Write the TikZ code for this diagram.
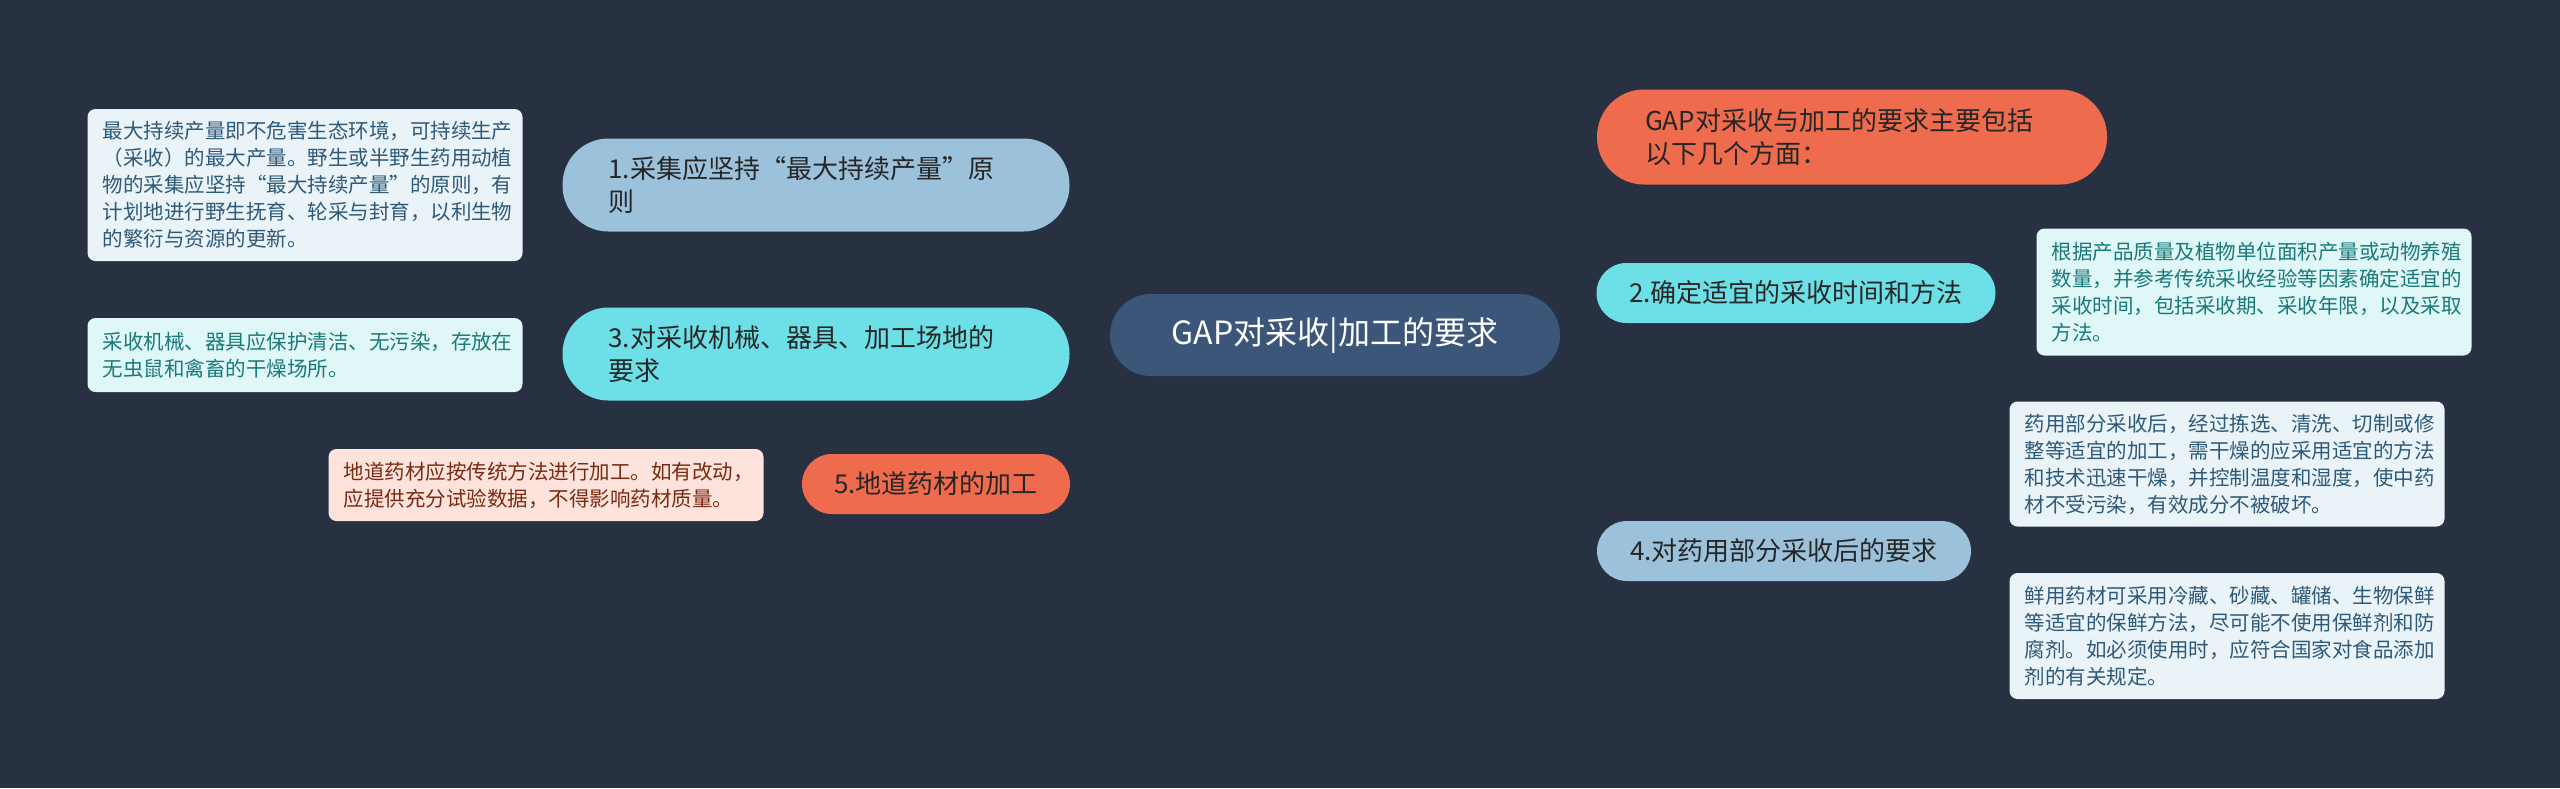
\documentclass[tikz,border=0pt]{standalone}
\usepackage{fontspec}
\setmainfont{Noto Sans CJK SC}
\pgfdeclarelayer{bg}
\pgfsetlayers{bg,main}
\definecolor{bgc}{HTML}{283142}
\definecolor{cen}{HTML}{3B5679}
\definecolor{org}{HTML}{EE6B4D}
\definecolor{cya}{HTML}{6DDFE6}
\definecolor{lbl}{HTML}{9CC2DB}
\definecolor{dcy}{HTML}{E0F7F8}
\definecolor{dbl}{HTML}{EAF3F8}
\definecolor{dor}{HTML}{FDE3DC}
\definecolor{tcy}{HTML}{1A7A7A}
\definecolor{tbl}{HTML}{2E5A7A}
\definecolor{tor}{HTML}{7A2A10}
\begin{document}
\begin{tikzpicture}[x=1pt,y=-1pt,
  topic/.style={inner sep=0pt,text=black!85,font=\fontsize{26}{33}\selectfont},
  desc/.style={rounded corners=8pt,inner xsep=15pt,inner ysep=0pt,text width=405pt,align=left,font=\fontsize{20.5}{27}\selectfont},
  link/.style={line width=2.5pt}]
\fill[bgc] (0,0) rectangle (2560,788);
\node[fill=cen,rounded corners=41pt,minimum width=450pt,minimum height=82pt,text=white,font=\fontsize{32}{38}\selectfont] (c) at (1335,335) {GAP对采收|加工的要求};
\node[topic,fill=org,rounded corners=47pt,minimum width=510pt,minimum height=95pt] (g) at (1852,137) {\parbox{414pt}{GAP对采收与加工的要求主要包括\\以下几个方面：}};
\node[topic,fill=cya,rounded corners=30pt,minimum width=399pt,minimum height=60pt] (n2) at (1796,293) {2.确定适宜的采收时间和方法};
\node[topic,fill=lbl,rounded corners=30pt,minimum width=374pt,minimum height=60pt] (n4) at (1784,551) {4.对药用部分采收后的要求};
\node[topic,fill=lbl,rounded corners=46pt,minimum width=507pt,minimum height=93pt] (n1) at (816,185) {\parbox{415pt}{1.采集应坚持“最大持续产量”原\\则}};
\node[topic,fill=cya,rounded corners=46pt,minimum width=507pt,minimum height=93pt] (n3) at (816,354) {\parbox{415pt}{3.对采收机械、器具、加工场地的\\要求}};
\node[topic,fill=org,rounded corners=30pt,minimum width=268pt,minimum height=60pt] (n5) at (936,484) {5.地道药材的加工};
\node[desc,fill=dbl,text=tbl,minimum height=152pt] (d1) at (305,185) {最大持续产量即不危害生态环境，可持续生产\\（采收）的最大产量。野生或半野生药用动植\\物的采集应坚持“最大持续产量”的原则，有\\计划地进行野生抚育、轮采与封育，以利生物\\的繁衍与资源的更新。};
\node[desc,fill=dcy,text=tcy,minimum height=74pt] (d3) at (305,355) {采收机械、器具应保护清洁、无污染，存放在\\无虫鼠和禽畜的干燥场所。};
\node[desc,fill=dor,text=tor,minimum height=72pt] (d5) at (546,485) {地道药材应按传统方法进行加工。如有改动，\\应提供充分试验数据，不得影响药材质量。};
\node[desc,fill=dcy,text=tcy,minimum height=127pt] (d2) at (2254,292) {根据产品质量及植物单位面积产量或动物养殖\\数量，并参考传统采收经验等因素确定适宜的\\采收时间，包括采收期、采收年限，以及采取\\方法。};
\node[desc,fill=dbl,text=tbl,minimum height=125pt] (d4a) at (2227,464) {药用部分采收后，经过拣选、清洗、切制或修\\整等适宜的加工，需干燥的应采用适宜的方法\\和技术迅速干燥，并控制温度和湿度，使中药\\材不受污染，有效成分不被破坏。};
\node[desc,fill=dbl,text=tbl,minimum height=126pt] (d4b) at (2227,636) {鲜用药材可采用冷藏、砂藏、罐储、生物保鲜\\等适宜的保鲜方法，尽可能不使用保鲜剂和防\\腐剂。如必须使用时，应符合国家对食品添加\\剂的有关规定。};
\coordinate (br) at (1995,551);
\begin{pgfonlayer}{bg}
\draw[link,org] (c.center) .. controls (1335,170) and (1400,137) .. (g.west);
\draw[link,cya] (c.east |- n2.west) -- (n2.west);
\draw[link,lbl] (c.center) .. controls (1335,500) and (1400,551) .. (n4.west);
\draw[link,lbl] (n1.east) .. controls (1300,185) and (1335,230) .. (c.center);
\draw[link,cya] (n3.east) -- (c.west |- n3.east);
\draw[link,org] (n5.east) .. controls (1300,484) and (1335,430) .. (c.center);
\draw[link,lbl] (d1.east) -- (n1.west |- d1.east);
\draw[link,cya] (d3.east) -- (n3.west |- d3.east);
\draw[link,org] (d5.east) -- (n5.west |- d5.east);
\draw[link,cya] (n2.east) -- (d2.west |- n2.east);
\draw[link,lbl] (n4.east) -- (br);
\draw[link,lbl] (d4a.west) to[out=180,in=90] (br |- 0,490) -- (br |- 0,610) to[out=-90,in=180] (d4b.west);
\end{pgfonlayer}
\end{tikzpicture}
\end{document}
